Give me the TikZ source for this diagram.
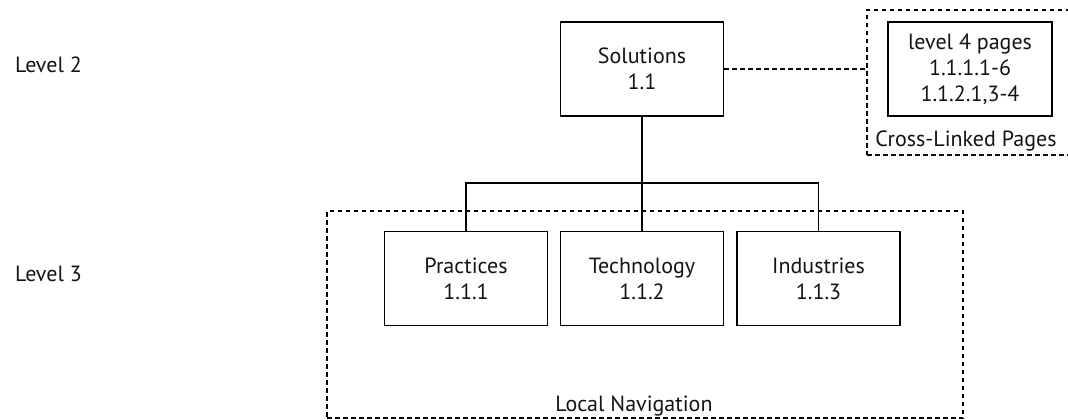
\documentclass[tikz,border=0pt]{standalone}
\usepackage{fontspec}
\setmainfont{PT Sans}
\begin{document}
\begin{tikzpicture}[x=1pt, y=-1pt,
  txt/.style={font=\fontsize{22}{26}\selectfont, text=black!92},
  pagebox/.style={txt, draw, line width=1.4pt, minimum width=163pt,
    minimum height=94pt, inner sep=0pt, align=center},
  link/.style={line width=1.4pt},
  dotline/.style={line width=1.2pt, dash pattern=on 4.5pt off 3.5pt},
  groupbox/.style={dotline, draw, inner sep=0pt},
  caption/.style={txt, inner sep=0pt}]
\useasboundingbox (0,0) rectangle (1068,420);
\fill[white] (0,0) rectangle (1068,420);

% level captions
\node[caption, anchor=base west] (lv2) at (15,73) {Level 2};
\node[caption, anchor=base west] (lv3) at (15,281) {Level 3};

% dashed groups
\node[groupbox, minimum width=636pt, minimum height=207pt] (nav) at (645,314.5) {};
\node[caption, anchor=base] (navlabel) at (634,411) {Local Navigation};
\node[groupbox, minimum width=213pt, minimum height=145pt] (cross) at (973.5,82.5) {};
\node[caption, anchor=base] (crosslabel) at (966,146) {Cross-Linked Pages};

% pages
\node[pagebox] (sol) at (642,69) {Solutions\\1.1};
\node[pagebox, minimum width=164pt] (lvl4) at (970,69) {level 4 pages\\1.1.1.1-6\\1.1.2.1,3-4};
\node[pagebox] (prac) at (466,278.5) {Practices\\1.1.1};
\node[pagebox] (tech) at (642,278.5) {Technology\\1.1.2};
\node[pagebox] (ind) at (818.5,278.5) {Industries\\1.1.3};

% connectors
\coordinate (bar) at (642,183);
\draw[dotline] (sol.east) -- (sol.east -| cross.west);
\draw[link] (sol.south) -- (sol.south |- bar);
\draw[link] (prac.north) -- (prac.north |- bar) -| (ind.north);
\draw[link] (tech.north) -- (tech.north |- bar);
\end{tikzpicture}
\end{document}
